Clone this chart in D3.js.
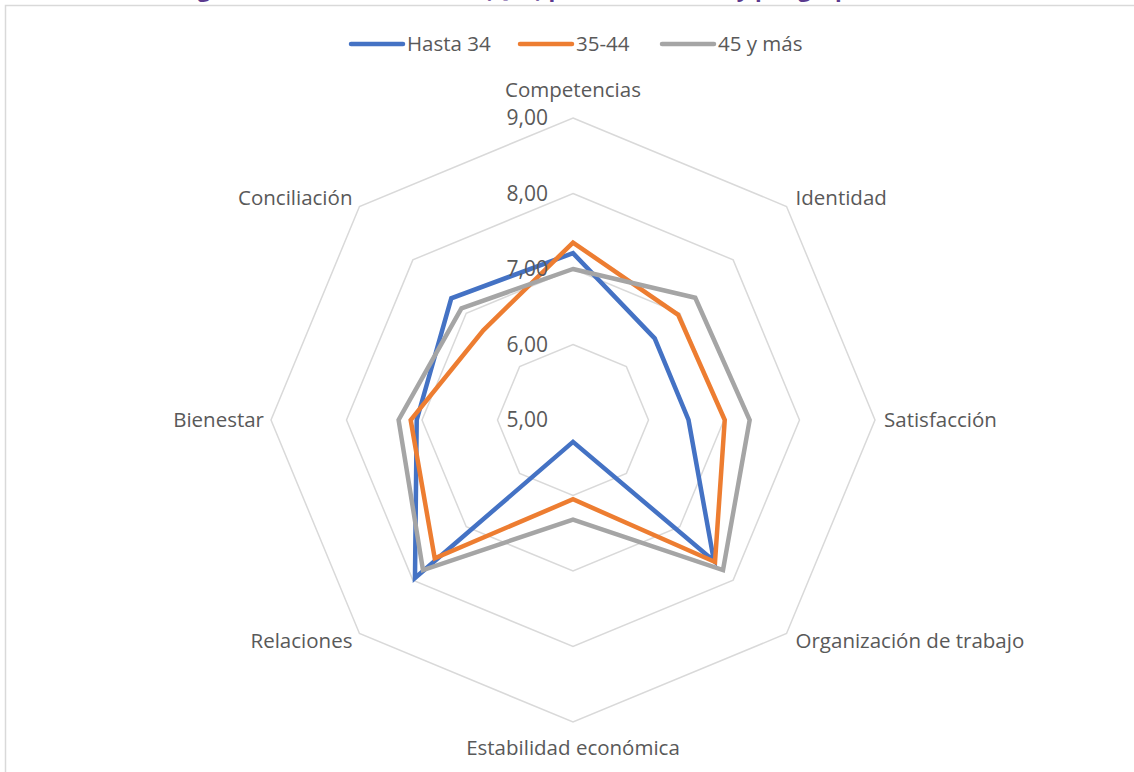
<!DOCTYPE html>
<html>
<head>
<meta charset="utf-8">
<script src="https://cdn.jsdelivr.net/npm/d3@7"></script>
<style>
html,body{margin:0;padding:0;background:#fff;}
svg{display:block;}
text{font-family:"Open Sans","Noto Sans",sans-serif;fill:#595959;}
</style>
</head>
<body>
<svg id="chart" width="1134" height="772"></svg>
<script>
const categories = ["Competencias","Identidad","Satisfacción","Organización de trabajo","Estabilidad económica","Relaciones","Bienestar","Conciliación"];
const seriesNames = ["Hasta 34","35-44","45 y más"];
const hasta34 = [7.21,6.53,6.53,7.64,5.29,7.96,7.07,7.28];
const de35a44 = [7.35,6.97,7.01,7.66,6.05,7.59,7.15,6.68];
const mas45 = [7.00,7.29,7.34,7.81,6.32,7.81,7.31,7.09];
const tickValues = [5,6,7,8,9];
const tickLabels = ["5,00","6,00","7,00","8,00","9,00"];
const titleText = "Figura 9. Puntuación media (QoL) por dimensiones y por grupo de edad";

const colors = ["#4472C4","#ED7D31","#A5A5A5"];
const svg = d3.select("#chart");
const cx = 573, cy = 420, R = 302;
const r = d3.scaleLinear().domain([5,9]).range([0,R]);
const angle = i => -Math.PI/2 + i*2*Math.PI/categories.length;

// title (clipped at top)
svg.append("text").attr("x",567).attr("y",-3).attr("text-anchor","middle")
  .style("font-size","22px").style("font-weight","bold").style("fill","#5B3A8E")
  .text(titleText);

// border
svg.append("rect").attr("x",5.5).attr("y",5.5).attr("width",1200).attr("height",900)
  .attr("fill","none").attr("stroke","#d9d9d9").attr("stroke-width",1.5);

const g = svg.append("g");

// grid rings
const ringLine = d3.lineRadial().angle((d,i)=> i*2*Math.PI/categories.length).radius(d=>d).curve(d3.curveLinearClosed);
tickValues.filter(v=>v>5).forEach(v=>{
  g.append("path").attr("transform",`translate(${cx},${cy})`)
    .attr("d", ringLine(categories.map(()=>r(v))))
    .attr("fill","none").attr("stroke","#d9d9d9").attr("stroke-width",1.5);
});

// series
const dataLine = d3.lineRadial().angle((d,i)=> i*2*Math.PI/categories.length).radius(d=>r(d)).curve(d3.curveLinearClosed);
[hasta34,de35a44,mas45].forEach((s,k)=>{
  g.append("path").attr("transform",`translate(${cx},${cy})`)
    .attr("d", dataLine(s)).attr("fill","none")
    .attr("stroke",colors[k]).attr("stroke-width",4.5).attr("stroke-linejoin","miter");
});

// tick labels
tickValues.forEach((v,i)=>{
  g.append("text").attr("x",cx-25).attr("y",cy - r(v)).attr("dy","0.35em")
    .attr("text-anchor","end").style("font-size","21px").text(tickLabels[i]);
});

// axis labels
categories.forEach((c,i)=>{
  const a = angle(i);
  const cos = Math.cos(a), sin = Math.sin(a);
  const vx = cx + R*cos, vy = cy + R*sin;
  let x, y, anchor;
  if (Math.abs(cos) < 0.01) {
    anchor = "middle"; x = vx; y = vy + (sin < 0 ? -28 : 26);
  } else {
    anchor = cos > 0 ? "start" : "end";
    x = vx + (cos > 0 ? 9 : -7);
    y = Math.abs(sin) < 0.01 ? vy : vy + (sin > 0 ? 7 : -9);
  }
  g.append("text").attr("x",x).attr("y",y).attr("dy","0.35em").attr("text-anchor",anchor)
    .style("font-size","20.5px").text(c);
});

// legend
const legendX = [349,518,660];
seriesNames.forEach((n,k)=>{
  const lg = svg.append("g").attr("transform",`translate(${legendX[k]},44)`);
  lg.append("line").attr("x1",2).attr("x2",54).attr("y1",0).attr("y2",0)
    .attr("stroke",colors[k]).attr("stroke-width",4.5).attr("stroke-linecap","round");
  lg.append("text").attr("x",58).attr("y",0).attr("dy","0.35em").style("font-size","20.5px").text(n);
});
</script>
</body>
</html>
